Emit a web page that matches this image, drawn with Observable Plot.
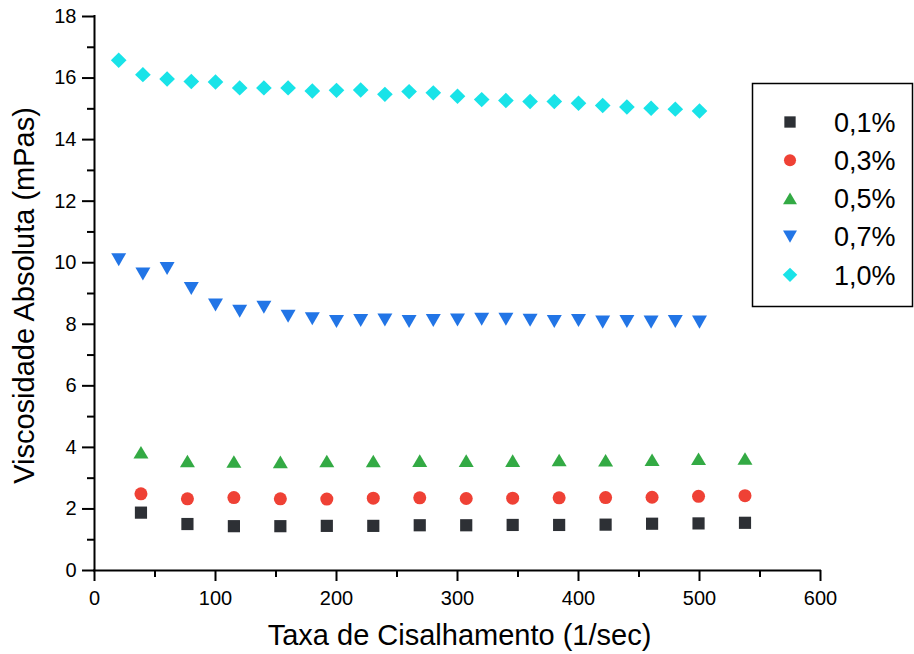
<!DOCTYPE html>
<html>
<head>
<meta charset="utf-8">
<script src="https://cdn.jsdelivr.net/npm/d3@7"></script>
<script src="https://cdn.jsdelivr.net/npm/@observablehq/plot@0.6"></script>
<style>
  html, body { margin: 0; padding: 0; background: white; }
  #chart { width: 914px; height: 654px; }
</style>
</head>
<body>
<div id="chart"></div>
<script>
// ---- data ----
const seriesLabels = ["0,1%", "0,3%", "0,5%", "0,7%", "1,0%"];
const xLow = [38.4, 76.8, 115.2, 153.6, 192, 230.4, 268.8, 307.2, 345.6, 384, 422.4, 460.8, 499.2, 537.6];
const xHigh = [20, 40, 60, 80, 100, 120, 140, 160, 180, 200, 220, 240, 260, 280, 300, 320, 340, 360, 380, 400, 420, 440, 460, 480, 500];
const v01 = [1.88, 1.51, 1.44, 1.44, 1.45, 1.45, 1.47, 1.47, 1.48, 1.48, 1.49, 1.52, 1.53, 1.55];
const v03 = [2.49, 2.33, 2.37, 2.33, 2.32, 2.35, 2.36, 2.34, 2.35, 2.36, 2.37, 2.38, 2.41, 2.43];
const v05 = [3.84, 3.56, 3.54, 3.53, 3.56, 3.56, 3.57, 3.57, 3.57, 3.59, 3.58, 3.60, 3.63, 3.64];
const v07 = [10.1, 9.63, 9.81, 9.16, 8.63, 8.42, 8.55, 8.26, 8.18, 8.09, 8.12, 8.14, 8.09, 8.12, 8.14, 8.16, 8.16, 8.13, 8.09, 8.12, 8.07, 8.09, 8.07, 8.09, 8.07];
const v10 = [16.58, 16.11, 15.97, 15.89, 15.87, 15.68, 15.68, 15.68, 15.58, 15.60, 15.61, 15.47, 15.56, 15.52, 15.41, 15.30, 15.27, 15.24, 15.24, 15.18, 15.11, 15.06, 15.02, 14.99, 14.93];
const yMajor = [0, 2, 4, 6, 8, 10, 12, 14, 16, 18];
const yMinor = [1, 3, 5, 7, 9, 11, 13, 15, 17];
const xMajor = [0, 100, 200, 300, 400, 500, 600];
const xMinor = [50, 150, 250, 350, 450, 550];
const xLabel = "Taxa de Cisalhamento (1/sec)";
const yLabel = "Viscosidade Absoluta (mPas)";
const colors = ["#2d3035", "#ef4135", "#33aa44", "#2275e6", "#19e3e8"];

// ---- symbols ----
const rad = s => Math.sqrt(s / Math.PI);
const symSquare = {draw(c, size) { const s = rad(size) * 0.87; c.moveTo(-s, -s); c.lineTo(s, -s); c.lineTo(s, s); c.lineTo(-s, s); c.closePath(); }};
const symCircle = {draw(c, size) { const r = rad(size) * 0.93; c.moveTo(r, 0); c.arc(0, 0, r, 0, 2 * Math.PI); c.closePath(); }};
const symTriUp = {draw(c, size) { const r = rad(size); const w = r * 1.07, h = r * 0.9; c.moveTo(0, -h); c.lineTo(w, h); c.lineTo(-w, h); c.closePath(); }};
const symTriDown = {draw(c, size) { const r = rad(size); const w = r * 1.07, h = r * 0.93; c.moveTo(-w, -h); c.lineTo(w, -h); c.lineTo(0, h); c.closePath(); }};
const symDiamond = {draw(c, size) { const r = rad(size); const w = r * 1.12, h = r * 1.1; c.moveTo(0, -h); c.lineTo(w, 0); c.lineTo(0, h); c.lineTo(-w, 0); c.closePath(); }};
const symbols = [symSquare, symCircle, symTriUp, symTriDown, symDiamond];

const toRows = (xs, ys) => xs.map((x, i) => ({x, y: ys[i]}));
const sets = [toRows(xLow, v01), toRows(xLow, v03), toRows(xLow, v05), toRows(xHigh, v07), toRows(xHigh, v10)];

const font = "'Liberation Sans', Arial, Helvetica, sans-serif";

const chart = Plot.plot({
  width: 914,
  height: 654,
  marginLeft: 94,
  marginRight: 94,
  marginTop: 16,
  marginBottom: 84,
  style: {fontFamily: font, background: "white", color: "black", overflow: "visible"},
  x: {domain: [0, 600], axis: null},
  y: {domain: [0, 18], axis: null},
  marks: [
    Plot.axisY(yMajor, {tickSize: 12, tickPadding: 6, fontSize: 20, strokeWidth: 2, label: null, tickFormat: d => String(d)}),
    Plot.axisY(yMinor, {tickSize: 7, strokeWidth: 2, label: null, tickFormat: () => ""}),
    Plot.axisX(xMajor, {tickSize: 11, tickPadding: 9, fontSize: 20, strokeWidth: 2, label: null, tickFormat: d => String(d)}),
    Plot.axisX(xMinor, {tickSize: 7, strokeWidth: 2, label: null, tickFormat: () => ""}),
    Plot.ruleX([0], {y1: 0, y2: 18, strokeWidth: 2, strokeLinecap: "square"}),
    Plot.ruleY([0], {x1: 0, x2: 600, strokeWidth: 2, strokeLinecap: "square"}),
    ...sets.map((data, i) => Plot.dot(data, {x: "x", y: "y", r: 7, symbol: symbols[i], fill: colors[i], stroke: "none"})),
    Plot.text([xLabel], {frameAnchor: "bottom", text: d => d, dy: 65, dx: 2, textAnchor: "middle", lineAnchor: "middle", fontSize: 29}),
    Plot.text([yLabel], {frameAnchor: "left", text: d => d, dx: -70, dy: 2, rotate: -90, textAnchor: "middle", lineAnchor: "middle", fontSize: 29})
  ]
});

document.getElementById("chart").appendChild(chart);

// ---- legend (drawn inside the same SVG) ----
const svg = d3.select(chart);
const lg = svg.append("g").attr("font-family", font).attr("text-anchor", "start");
lg.append("rect")
  .attr("x", 752.5).attr("y", 83.5).attr("width", 160).attr("height", 223)
  .attr("fill", "white").attr("stroke", "black").attr("stroke-width", 1.5);
seriesLabels.forEach((lab, i) => {
  const cy = 122 + i * 38.2;
  lg.append("path")
    .attr("d", d3.symbol(symbols[i], Math.PI * 6.5 * 6.5)())
    .attr("transform", `translate(790,${cy})`)
    .attr("fill", colors[i]);
  lg.append("text")
    .attr("x", 834).attr("y", cy).attr("dy", "0.36em")
    .attr("font-size", 27).attr("fill", "black").attr("text-anchor", "start")
    .text(lab);
});
</script>
</body>
</html>
